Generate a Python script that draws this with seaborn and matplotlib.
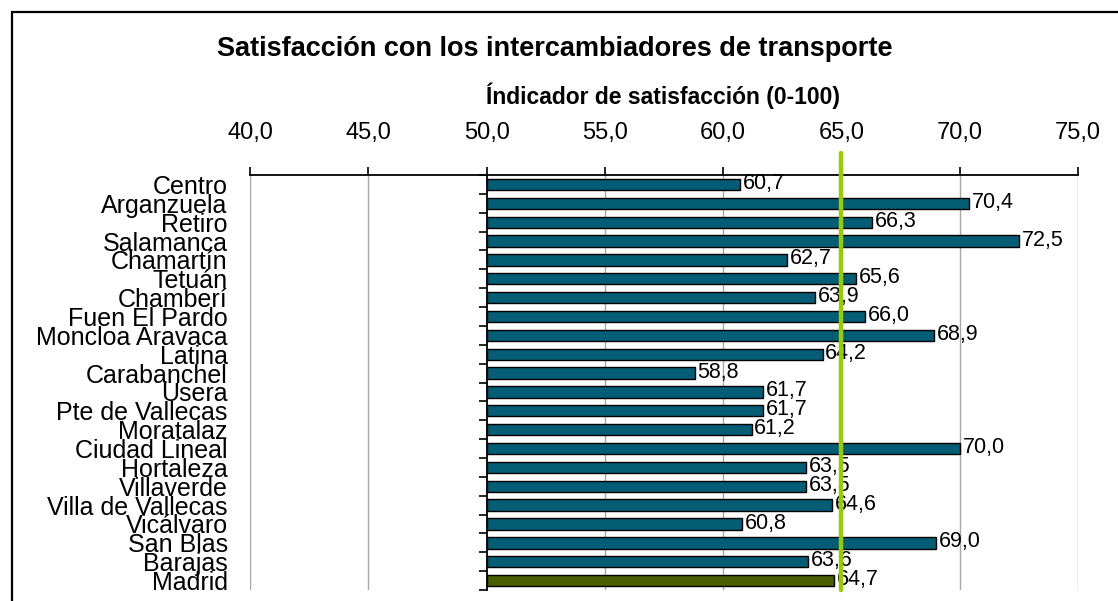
import matplotlib
matplotlib.use("Agg")
import matplotlib.pyplot as plt
import matplotlib.patches as mpatches
import seaborn as sns
import pandas as pd

districts = ["Centro", "Arganzuela", "Retiro", "Salamanca", "Chamartín", "Tetuán",
             "Chamberí", "Fuen El Pardo", "Moncloa Aravaca", "Latina", "Carabanchel",
             "Usera", "Pte de Vallecas", "Moratalaz", "Ciudad Lineal", "Hortaleza",
             "Villaverde", "Villa de Vallecas", "Vicálvaro", "San Blas", "Barajas", "Madrid"]
scores = [60.7, 70.4, 66.3, 72.5, 62.7, 65.6, 63.9, 66.0, 68.9, 64.2, 58.8,
          61.7, 61.7, 61.2, 70.0, 63.5, 63.5, 64.6, 60.8, 69.0, 63.6, 64.7]
reference_line = 65.0
x_ticks = [40, 45, 50, 55, 60, 65, 70, 75]
axis_cross = 50

df = pd.DataFrame({"distrito": districts, "valor": scores})

bar_color = "#045d75"
madrid_color = "#4a5e00"
palette = [bar_color] * (len(districts) - 1) + [madrid_color]

sns.set_style("white")
plt.rcParams["font.family"] = ["Liberation Sans", "DejaVu Sans"]
plt.rcParams["text.color"] = "black"
plt.rcParams["xtick.color"] = "black"
plt.rcParams["ytick.color"] = "black"
plt.rcParams["axes.labelcolor"] = "black"

fig = plt.figure(figsize=(11.18, 6.01), dpi=100)
ax = fig.add_axes([250 / 1118, 11 / 601, 828 / 1118, 415 / 601])

sns.barplot(data=df, x="valor", y="distrito", hue="distrito", palette=palette,
            orient="h", width=0.6, edgecolor="black", linewidth=1.0,
            legend=False, saturation=1, ax=ax)

# excel style: bars grow from the axis crossing at 50
for p in ax.patches:
    w = p.get_width()
    p.set_x(axis_cross)
    p.set_width(w - axis_cross)

for i, v in enumerate(scores):
    ax.text(v + 0.12, i - 0.05, f"{v:.1f}".replace(".", ","), va="center", ha="left",
            fontsize=15.5, color="black", zorder=4)

ax.axvline(reference_line, color="#99cc00", lw=3.2, zorder=5, ymin=0, ymax=1.053, clip_on=False)

ax.set_xlim(40, 75)
ax.set_ylim(len(districts) - 0.5, -0.5)
ax.set_xticks(x_ticks)
ax.set_xticklabels([f"{t:.1f}".replace(".", ",") for t in x_ticks])
ax.xaxis.tick_top()
ax.tick_params(axis="x", top=True, bottom=False, length=6, width=1.2, color="black",
               labelsize=17, labelcolor="black", pad=16, direction="out")
ax.tick_params(axis="y", left=False, length=0, labelsize=18, labelcolor="black", pad=16)
ax.set_xlabel("")
ax.set_ylabel("")

for t in x_ticks:
    if t != axis_cross:
        ax.axvline(t, color="#a8a8a8", lw=1, zorder=0)

for s in ["left", "right", "bottom"]:
    ax.spines[s].set_visible(False)
ax.spines["top"].set_linewidth(1.3)
ax.spines["top"].set_color("black")

# vertical category axis sitting at 50
sec = ax.secondary_yaxis((axis_cross - 40) / 35)
sec.set_yticks([i + 0.5 for i in range(-1, len(districts))])
sec.set_yticklabels([])
sec.tick_params(length=6, width=1.2, direction="out", color="black")
sec.spines["left"].set_linewidth(1.3)
sec.spines["left"].set_color("black")

fig.text(0.496, 0.918, "Satisfacción con los intercambiadores de transporte",
         ha="center", va="center", fontsize=19.5, fontweight="bold", color="black")
fig.text(0.593, 0.84, "Índicador de satisfacción (0-100)",
         ha="center", va="center", fontsize=16.5, fontweight="bold", color="black")

fig.patches.append(mpatches.Rectangle((12 / 1118, -0.1), 1.2, 1.1 - 12 / 601,
                                      transform=fig.transFigure, fill=False,
                                      edgecolor="black", lw=1.6))

fig.savefig("out.png", dpi=100)
